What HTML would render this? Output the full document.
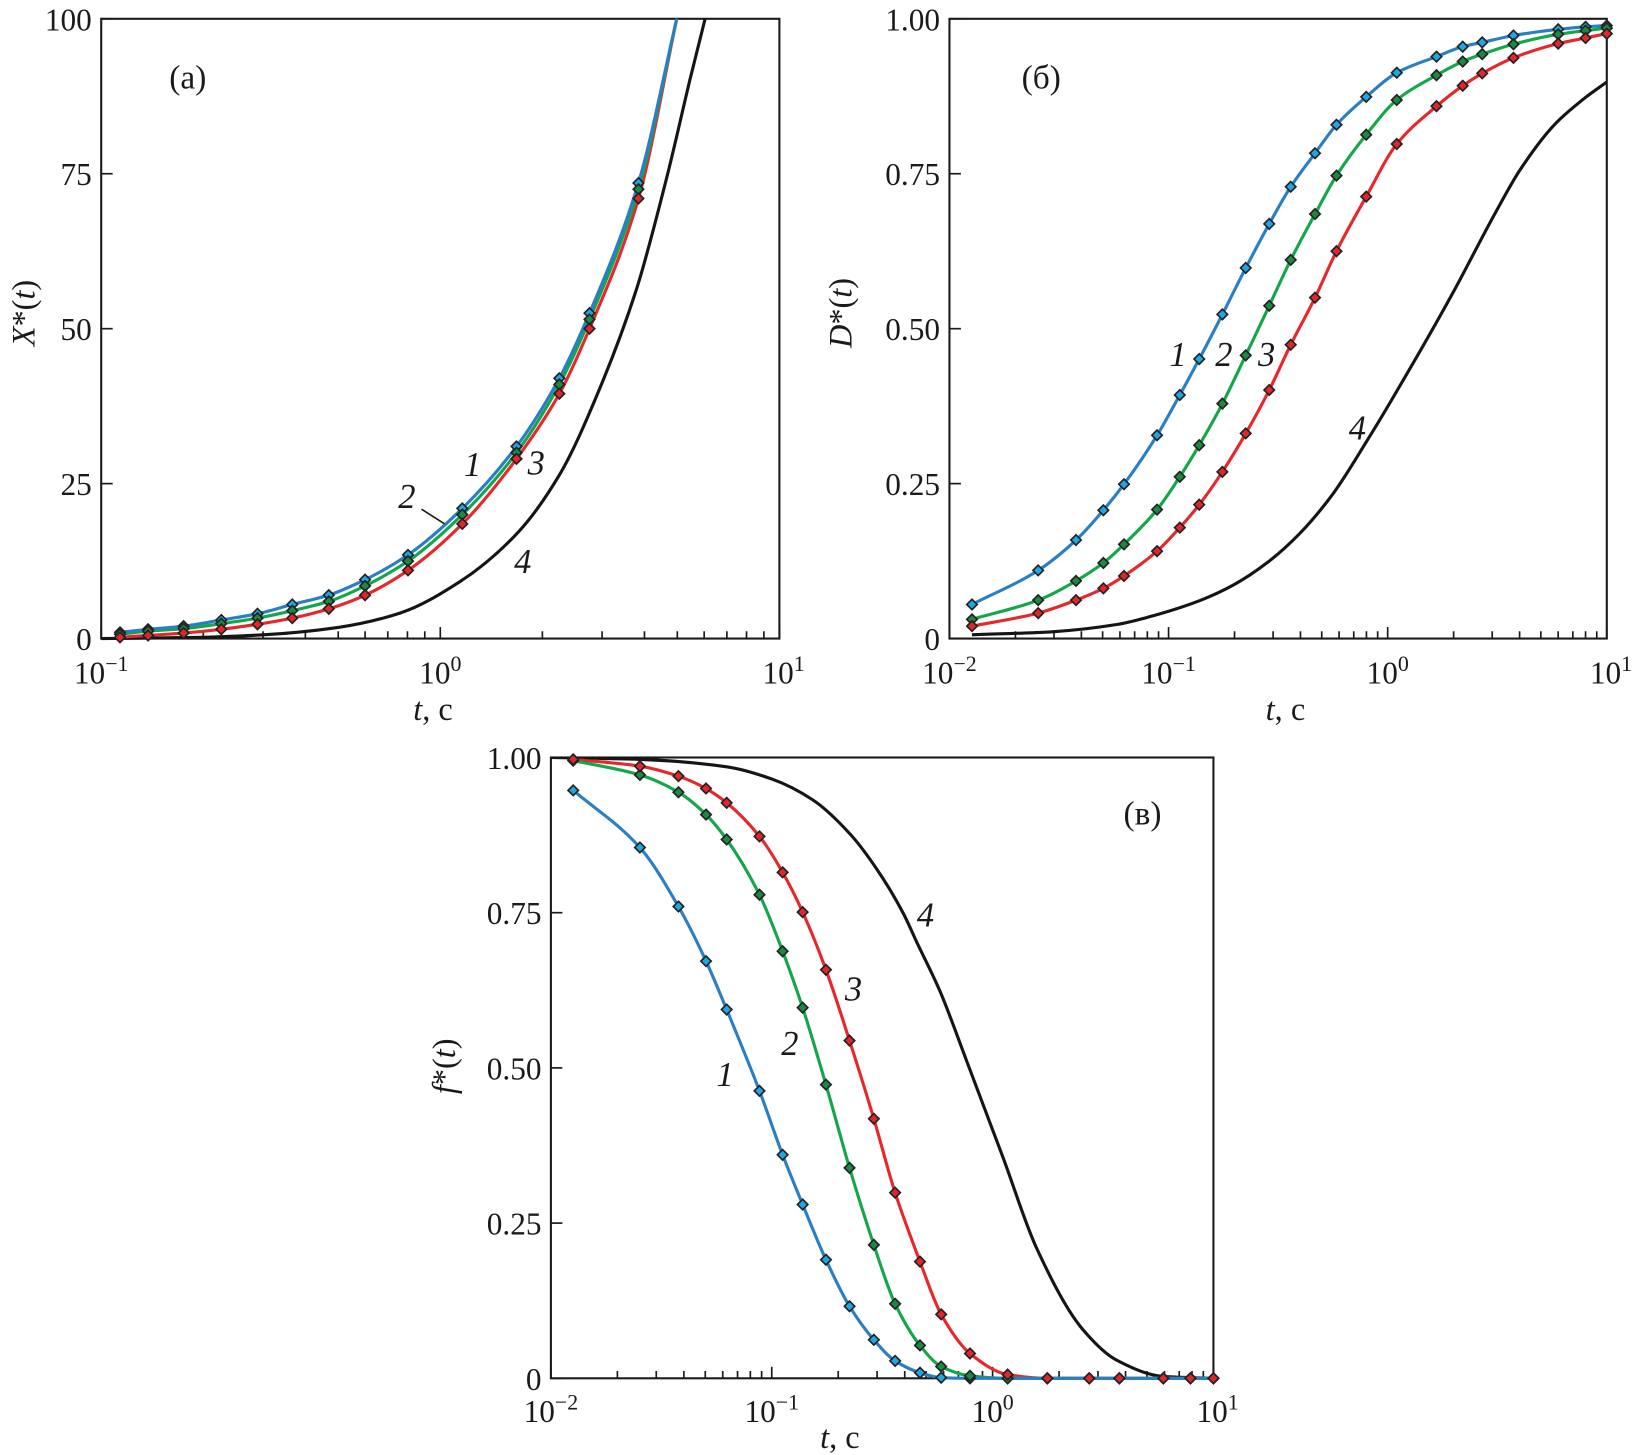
<!DOCTYPE html>
<html><head><meta charset="utf-8"><style>
html,body{margin:0;padding:0;background:#fff;}
svg{display:block;}
text{font-family:"Liberation Serif",serif;fill:#1a1a1a;}
</style></head><body>
<svg id="fig" width="1636" height="1455" viewBox="0 0 1568 1394.5" xmlns="http://www.w3.org/2000/svg"></svg>
<script>
// ---- Panel (a) data ----
const aT = [0.1136,0.1375,0.175,0.226,0.289,0.366,0.469,0.600,0.803,1.161,1.678,2.244,2.754,3.84,4.98];
const aS1 = [1,1.5,2,3,4,5.5,7,9.5,13.5,21,31,42,52.5,73.5,100];
const aS2 = [0.7,1.2,1.6,2.4,3.3,4.5,6,8.5,12.5,20,30,41,51.5,72.5,100];
const aS3 = [0.2,0.5,0.9,1.5,2.3,3.3,4.8,7,11,18.5,29,39.5,50,71,100];
const aBlackT = [0.1,0.2,0.3,0.5,0.76,1.143,1.68,2.25,2.96,3.79,4.65,5.45,6.04];
const aBlack = [0,0.2,0.6,1.8,4.1,9.2,16.9,26.5,40.5,56.4,74.3,90.2,100];
// ---- Panel (б) data ----
const bT = [0.01267,0.0254,0.0378,0.0504,0.0626,0.0886,0.1125,0.138,0.176,0.225,0.288,0.361,0.466,0.584,0.798,1.1,1.67,2.2,2.7,3.75,6.0,8.0,10];
const bS1 = [.055,.110,.159,.207,.249,.328,.393,.451,.523,.598,.669,.729,.783,.829,.874,.913,.939,.955,.962,.973,.983,.987,.989];
const bS2 = [.031,.062,.093,.122,.152,.208,.261,.312,.379,.457,.537,.611,.685,.747,.813,.869,.909,.931,.943,.959,.975,.981,.985];
const bS3 = [.020,.041,.062,.081,.101,.141,.179,.216,.269,.331,.401,.474,.550,.625,.713,.798,.859,.892,.912,.937,.960,.969,.976];
const bBlackT = [0.01267,0.0294,0.059,0.0895,0.1405,0.199,0.281,0.398,0.564,0.798,1.13,2.0,3.08,4.0,5.8,8.0,10];
const bBlack = [.006,.011,.023,.039,.062,.087,.122,.17,.234,.317,.406,.56,.685,.755,.83,.873,.898];
// ---- Panel (в) data ----
const cT = [0.01262,0.0253,0.0378,0.0504,0.0625,0.088,0.112,0.138,0.176,0.225,0.290,0.362,0.469,0.585,0.79,1.17,1.77,2.74,3.75,5.93,7.87,10];
const cS1 = [.947,.855,.760,.672,.594,.463,.360,.280,.191,.116,.062,.028,.009,.001,0,0,0,0,0,0,0,0];
const cS2 = [.995,.972,.944,.908,.868,.779,.688,.597,.473,.339,.215,.120,.053,.019,.004,0,0,0,0,0,0,0];
const cS3 = [.997,.986,.970,.950,.927,.873,.815,.751,.658,.544,.418,.299,.188,.103,.040,.006,0,0,0,0,0,0];
const cBlackT = [0.01,0.0253,0.0625,0.1006,0.153,0.226,0.298,0.394,0.453,0.577,0.762,1.117,1.58,2.57,3.65,5.93,10];
const cBlack = [1.0,.997,.985,.965,.932,.877,.821,.749,.703,.624,.512,.355,.21,.078,.029,.003,0];

const NS='http://www.w3.org/2000/svg';
const svg=document.getElementById('fig');
function el(tag,attrs,parent){const e=document.createElementNS(NS,tag);for(const k in attrs)e.setAttribute(k,attrs[k]);(parent||svg).appendChild(e);return e;}

function smoothPath(p){
  const n=p.length;
  const dx=[],m=[];
  for(let i=0;i<n-1;i++){dx.push(p[i+1][0]-p[i][0]);m.push((p[i+1][1]-p[i][1])/dx[i]);}
  const tg=new Array(n);
  tg[0]=m[0];tg[n-1]=m[n-2];
  for(let i=1;i<n-1;i++){
    if(m[i-1]*m[i]<=0)tg[i]=0;
    else{const w1=2*dx[i]+dx[i-1],w2=dx[i]+2*dx[i-1];tg[i]=(w1+w2)/(w1/m[i-1]+w2/m[i]);}
  }
  let d='M'+p[0][0].toFixed(1)+','+p[0][1].toFixed(1);
  for(let i=0;i<n-1;i++){
    const h=dx[i]/3;
    d+=' C'+(p[i][0]+h).toFixed(1)+','+(p[i][1]+tg[i]*h).toFixed(1)+' '+(p[i+1][0]-h).toFixed(1)+','+(p[i+1][1]-tg[i+1]*h).toFixed(1)+' '+p[i+1][0].toFixed(1)+','+p[i+1][1].toFixed(1);
  }
  return d;
}

function panel(cfg){
  const g=el('g',{});
  
  
  const L=cfg.L,R=cfg.R,T=cfg.T,B=cfg.B;
  const xs=t=>L+(Math.log10(t)-cfg.d0)/(cfg.d1-cfg.d0)*(R-L);
  const ys=v=>B-(v-cfg.ymin)/(cfg.ymax-cfg.ymin)*(B-T);
  const cid='clip-'+cfg.name;
  const cp=el('clipPath',{id:cid},g);el('rect',{x:L,y:T-1,width:R-L,height:B-T+6},cp);
  const fr=el('rect',{x:L,y:T,width:R-L,height:B-T,fill:'none',stroke:'#1a1a1a','stroke-width':2},g);
  
  
  for(let d=cfg.d0;d<=cfg.d1;d++){
    for(let m=1;m<=9;m++){
      if(d===cfg.d1&&m>1)break;
      const x=xs(m*Math.pow(10,d));
      el('line',{x1:x,y1:B,x2:x,y2:B-(m===1?11:7),stroke:'#1a1a1a','stroke-width':1.6},g);
    }
    const tx=el('text',{x:xs(Math.pow(10,d))-(d===cfg.d1?-4:0),y:cfg.xlabY,'font-size':30,'text-anchor':'middle'},g);
    
    
    tx.innerHTML='10<tspan dy="-12" font-size="21">'+(d<0?'\u2212'+(-d):d)+'</tspan>';
  }
  cfg.yticks.forEach((v,i)=>{
    const y=ys(v);
    el('line',{x1:L,y1:y,x2:L+11,y2:y,stroke:'#1a1a1a','stroke-width':1.6},g);
    const t=el('text',{x:L-9,y:y+11,'font-size':30,'text-anchor':'end'},g);
    
    
    t.textContent=cfg.ylabels[i];
  });
  const xt=el('text',{x:cfg.xtX,y:cfg.xtY,'font-size':31,'text-anchor':'middle'},g);
  
  
  xt.innerHTML='<tspan font-style="italic">t</tspan>, c';
  const yt=el('text',{x:0,y:0,'font-size':31,'text-anchor':'middle',transform:'translate('+cfg.ytX+','+cfg.ytY+') rotate(-90)'},g);
  
  
  yt.innerHTML='<tspan font-style="italic">'+cfg.ysym+'</tspan>*(<tspan font-style="italic">t</tspan>)';
  const pl=el('text',{x:cfg.lx,y:cfg.ly,'font-size':32,'text-anchor':'middle'},g);
  
  
  pl.textContent=cfg.letter;
  const cg=el('g',{'clip-path':'url(#'+cid+')'},g);
  const bp=el('path',{d:smoothPath(cfg.blackT.map((t,i)=>[xs(t),ys(cfg.black[i])])),fill:'none',stroke:'#151515','stroke-width':3},cg);
  
  
  const cols=[['#2a7fc4','#1ea7e4'],['#14a64a','#1a8a40'],['#e5282c','#e0262a']];
  const series=[cfg.s1,cfg.s2,cfg.s3];
  [2,1,0].forEach(k=>{
    const pts=cfg.t.map((t,i)=>[xs(t),ys(series[k][i])]);
    const p=el('path',{d:smoothPath(pts),fill:'none',stroke:cols[k][0],'stroke-width':3},cg);
    
    
  });
  [0,1,2].forEach(k=>{
    cfg.t.forEach((t,i)=>{
      const v=series[k][i];
      if(cfg.markerMax!==undefined && v>cfg.markerMax)return;
      const x=xs(t),y=ys(v),s=5;
      const m=el('polygon',{points:(x)+','+(y-s)+' '+(x+s)+','+y+' '+x+','+(y+s)+' '+(x-s)+','+y,fill:cols[k][1],stroke:'#222','stroke-width':1.6},g);
      
      
    });
  });
  cfg.labels.forEach(l=>{
    const t=el('text',{x:l[1],y:l[2],'font-size':33,'font-style':'italic','text-anchor':'middle'},g);
    
    
    t.textContent=l[0];
  });
  return g;
}

panel({name:'panel-a',L:97,R:747,T:18,B:612,d0:-1,d1:1,ymin:0,ymax:100,
  yticks:[0,25,50,75,100],ylabels:['0','25','50','75','100'],xlabY:655,xtX:415,xtY:690,ytX:33,ytY:300,ysym:'X',
  lx:180,ly:85,letter:'(a)',t:aT,s1:aS1,s2:aS2,s3:aS3,blackT:aBlackT,black:aBlack,markerMax:99,
  labels:[['1',453,456],['2',390,487],['3',514,455],['4',501,549]]});
el('line',{x1:404,y1:488,x2:426,y2:502,stroke:'#1a1a1a','stroke-width':1.5});

panel({name:'panel-b',L:910,R:1540,T:18,B:612,d0:-2,d1:1,ymin:0,ymax:1,
  yticks:[0,0.25,0.5,0.75,1],ylabels:['0','0.25','0.50','0.75','1.00'],xlabY:655,xtX:1232,xtY:690,ytX:816,ytY:300,ysym:'D',
  lx:998,ly:85,letter:'(б)',t:bT,s1:bS1,s2:bS2,s3:bS3,blackT:bBlackT,black:bBlack,
  labels:[['1',1129,351],['2',1173,351],['3',1214,351],['4',1301,421]]});

panel({name:'panel-c',L:528,R:1163,T:726,B:1321,d0:-2,d1:1,ymin:0,ymax:1,
  yticks:[0,0.25,0.5,0.75,1],ylabels:['0','0.25','0.50','0.75','1.00'],xlabY:1363,xtX:805,xtY:1388,ytX:436,ytY:1022,ysym:'f',
  lx:1095,ly:790,letter:'(в)',t:cT,s1:cS1,s2:cS2,s3:cS3,blackT:cBlackT,black:cBlack,
  labels:[['1',695,1041],['2',757,1011],['3',818,959],['4',887,888]]});
</script>
</body></html>
